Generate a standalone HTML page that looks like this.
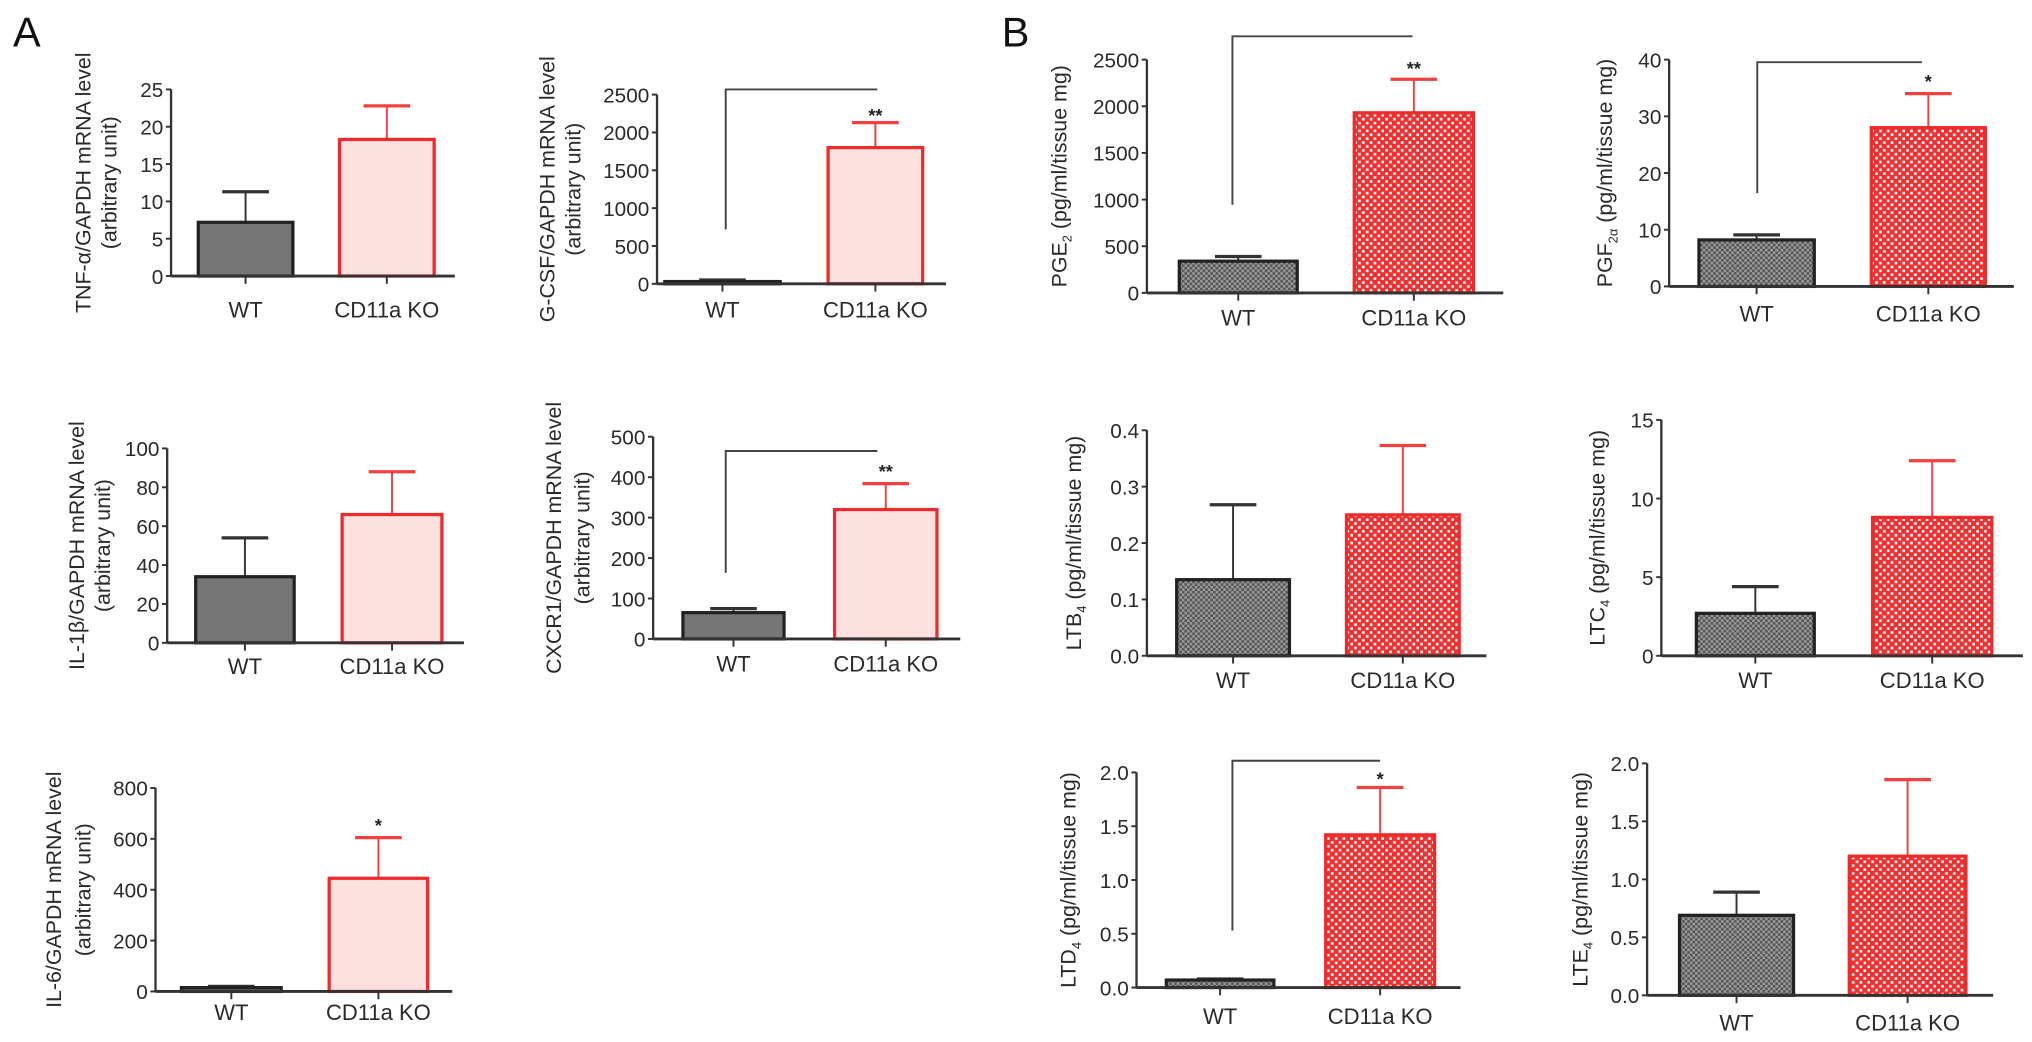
<!DOCTYPE html>
<html><head><meta charset="utf-8"><style>
html,body{margin:0;padding:0;background:#fff;}
svg{display:block;font-family:"Liberation Sans",Arial,sans-serif;}
.tick{font-size:16px;fill:#2a2a2a;}
.ylab{font-size:16.5px;fill:#2a2a2a;}
.cat{font-size:17px;fill:#2a2a2a;}
</style></head><body>
<svg id="fig" width="2032" height="1042" viewBox="0 0 1568 804" preserveAspectRatio="none">
<defs>
<pattern id="grayChk" width="4" height="4" patternUnits="userSpaceOnUse"><rect width="4" height="4" fill="#9a9a9a"/><rect width="2" height="2" fill="#555"/><rect x="2" y="2" width="2" height="2" fill="#555"/></pattern>
<pattern id="redChk" width="6" height="6" patternUnits="userSpaceOnUse"><rect width="6" height="6" fill="#f03030"/><rect x="1" y="1" width="2" height="2" fill="#fff"/><rect x="4" y="4" width="2" height="2" fill="#fff"/></pattern>
</defs>
<text x="10" y="36" font-size="32" fill="#111">A</text>
<text x="773" y="36" font-size="32" fill="#111">B</text>
</svg>
<script>
const categories = ['WT', 'CD11a KO'];
const tnfValues = [7.2, 18.3];   const tnfErrors = [11.3, 22.8];   const tnfTicks = [0,5,10,15,20,25];
const gcsfValues = [30, 1800];   const gcsfErrors = [50, 2130];    const gcsfTicks = [0,500,1000,1500,2000,2500];
const il1Values = [34, 66];      const il1Errors = [54, 88];       const il1Ticks = [0,20,40,60,80,100];
const cxcrValues = [65, 320];    const cxcrErrors = [75, 384];     const cxcrTicks = [0,100,200,300,400,500];
const il6Values = [15, 445];     const il6Errors = [20, 605];      const il6Ticks = [0,200,400,600,800];
const pge2Values = [340, 1930];  const pge2Errors = [390, 2290];   const pge2Ticks = [0,500,1000,1500,2000,2500];
const pgfValues = [8.2, 28];     const pgfErrors = [9.1, 34];      const pgfTicks = [0,10,20,30,40];
const ltb4Values = [0.135, 0.25];const ltb4Errors = [0.268, 0.373];const ltb4Ticks = ['0.0','0.1','0.2','0.3','0.4'];
const ltc4Values = [2.7, 8.8];   const ltc4Errors = [4.4, 12.4];   const ltc4Ticks = [0,5,10,15];
const ltd4Values = [0.07, 1.42]; const ltd4Errors = [0.08, 1.86];  const ltd4Ticks = ['0.0','0.5','1.0','1.5','2.0'];
const lte4Values = [0.69, 1.2];  const lte4Errors = [0.89, 1.86];  const lte4Ticks = ['0.0','0.5','1.0','1.5','2.0'];

const svg = document.getElementById('fig');
const NS = 'http://www.w3.org/2000/svg';
function mk(tag, attrs, parent, txt){const e=document.createElementNS(NS,tag);for(const k in attrs)e.setAttribute(k,attrs[k]);if(txt!==undefined)e.textContent=txt;(parent||svg).appendChild(e);return e;}

const charts = [
 {id:'tnf', vals:tnfValues, errs:tnfErrors, ticks:tnfTicks, ax:132, ax2:351, top:69, zero:213, bars:[[153,73],[262,73]], style:'A', lab:['TNF-α/GAPDH mRNA level','(arbitrary unit)'], lx:[70,90], catY:245},
 {id:'gcsf', vals:gcsfValues, errs:gcsfErrors, ticks:gcsfTicks, ax:507, ax2:730, top:73, zero:219, bars:[[513,89],[639,73]], style:'A', lab:['G-CSF/GAPDH mRNA level','(arbitrary unit)'], lx:[428,448], catY:245, sig:{x1:560,y1:177,x2:677,y:69,txt:'**',sy:94}},
 {id:'il1b', vals:il1Values, errs:il1Errors, ticks:il1Ticks, ax:129, ax2:358, top:346, zero:496, bars:[[151,76],[264,77]], style:'A', lab:['IL-1β/GAPDH mRNA level','(arbitrary unit)'], lx:[65,85], catY:520},
 {id:'cxcr1', vals:cxcrValues, errs:cxcrErrors, ticks:cxcrTicks, ax:504, ax2:741, top:337, zero:493, bars:[[527,78],[644,79]], style:'A', lab:['CXCR1/GAPDH mRNA level','(arbitrary unit)'], lx:[433,455], catY:518, sig:{x1:560,y1:442,x2:677,y:348,txt:'**',sy:369}},
 {id:'il6', vals:il6Values, errs:il6Errors, ticks:il6Ticks, ax:120, ax2:349, top:608, zero:765, bars:[[140,77],[254,76]], style:'A', lab:['IL-6/GAPDH mRNA level','(arbitrary unit)'], lx:[47,70], catY:787, sig:{txt:'*',sx:292,sy:642}},
 {id:'pge2', vals:pge2Values, errs:pge2Errors, ticks:pge2Ticks, ax:885, ax2:1160, top:46, zero:226, bars:[[910,91],[1045,92]], style:'B', lab:['PGE','2'], lx:823, catY:251, sig:{x1:951,y1:158,x2:1090,y:28,txt:'**',sy:58}},
 {id:'pgf2a', vals:pgfValues, errs:pgfErrors, ticks:pgfTicks, ax:1288, ax2:1554, top:46, zero:221, bars:[[1311,89],[1444,88]], style:'B', lab:['PGF','2α'], lx:1244, catY:248, sig:{x1:1356,y1:149,x2:1483,y:48,txt:'*',sy:68}},
 {id:'ltb4', vals:ltb4Values, errs:ltb4Errors, ticks:ltb4Ticks, ax:885, ax2:1147, top:332, zero:506, bars:[[908,87],[1039,87]], style:'B', lab:['LTB','4'], lx:834, catY:531},
 {id:'ltc4', vals:ltc4Values, errs:ltc4Errors, ticks:ltc4Ticks, ax:1282, ax2:1561, top:324, zero:506, bars:[[1309,91],[1445,92]], style:'B', lab:['LTC','4'], lx:1238, catY:531},
 {id:'ltd4', vals:ltd4Values, errs:ltd4Errors, ticks:ltd4Ticks, ax:877, ax2:1127, top:596, zero:762, bars:[[900,83],[1023,84]], style:'B', lab:['LTD','4'], lx:830, catY:790, sig:{x1:951,y1:718,x2:1065,y:587,txt:'*',sy:606}},
 {id:'lte4', vals:lte4Values, errs:lte4Errors, ticks:lte4Ticks, ax:1271, ax2:1538, top:589, zero:768, bars:[[1296,88],[1427,90]], style:'B', lab:['LTE','4'], lx:1225, catY:795}
];

charts.forEach(c=>{
  const g = mk('g',{});
  
  
  const max = parseFloat(c.ticks[c.ticks.length-1]);
  const y = v => c.zero - (v/max)*(c.zero-c.top);
  const midY = (c.top + c.zero)/2;
  const ya = mk('line',{x1:c.ax,y1:c.top,x2:c.ax,y2:c.zero,stroke:'#333','stroke-width':1.8},g);
  
  
  c.ticks.forEach(t=>{
    const yy = y(parseFloat(t));
    mk('line',{x1:c.ax-4,y1:yy,x2:c.ax,y2:yy,stroke:'#333','stroke-width':1.5},g);
    const tl = mk('text',{x:c.ax-6,y:yy+6,'text-anchor':'end',class:'tick'},g,String(t));
    
    
  });
  c.bars.forEach((b,i)=>{
    const v = c.vals[i], e = c.errs[i];
    const cx = b[0] + b[1]/2;
    const isKO = i===1;
    const col = isKO ? '#ee2a2a' : '#222';
    const ecol = isKO ? '#f04040' : '#333';
    mk('line',{x1:cx,y1:y(e),x2:cx,y2:y(v),stroke:ecol,'stroke-width':1.5},g);
    mk('line',{x1:cx-18,y1:y(e),x2:cx+18,y2:y(e),stroke:ecol,'stroke-width':2.5},g);
    let fill;
    if(c.style==='A') fill = isKO ? '#fde0e0' : '#767676';
    else fill = isKO ? 'url(#redChk)' : 'url(#grayChk)';
    const r = mk('rect',{x:b[0],y:y(v),width:b[1],height:Math.max(c.zero-y(v),1),fill:fill,stroke:col,'stroke-width':2.5},g);
    
    
    mk('line',{x1:cx,y1:c.zero,x2:cx,y2:c.zero+6,stroke:'#333','stroke-width':1.5},g);
    const cl = mk('text',{x:cx,y:c.catY,'text-anchor':'middle',class:'cat'},g,categories[i]);
    
    
  });
  const xa = mk('line',{x1:c.ax,y1:c.zero,x2:c.ax2,y2:c.zero,stroke:'#333','stroke-width':2.2},g);
  
  
  let yl;
  if(c.style==='A'){
    yl = mk('text',{x:c.lx[0],y:midY,'text-anchor':'middle',class:'ylab',transform:`rotate(-90 ${c.lx[0]} ${midY})`},g,c.lab[0]);
    const yl2 = mk('text',{x:c.lx[1],y:midY,'text-anchor':'middle',class:'ylab',transform:`rotate(-90 ${c.lx[1]} ${midY})`},g,c.lab[1]);
    
    
  } else {
    yl = mk('text',{x:c.lx,y:midY,'text-anchor':'middle',class:'ylab',transform:`rotate(-90 ${c.lx} ${midY})`},g);
    mk('tspan',{},yl,c.lab[0]);
    mk('tspan',{'font-size':'10',dy:'4'},yl,c.lab[1]);
    mk('tspan',{dy:'-4'},yl,'  (pg/ml/tissue mg)');
  }
  
  
  if(c.sig){
    if(c.sig.x1!==undefined){
      const p = mk('polyline',{points:`${c.sig.x1},${c.sig.y1} ${c.sig.x1},${c.sig.y} ${c.sig.x2},${c.sig.y}`,fill:'none',stroke:'#444','stroke-width':1.5},g);
      
      
    }
    const sx = c.sig.sx!==undefined ? c.sig.sx : c.bars[1][0]+c.bars[1][1]/2;
    const st = mk('text',{x:sx,y:c.sig.sy,'text-anchor':'middle','font-size':'14','font-weight':'bold',fill:'#222'},g,c.sig.txt);
    
    
  }
});
</script>
</body></html>
